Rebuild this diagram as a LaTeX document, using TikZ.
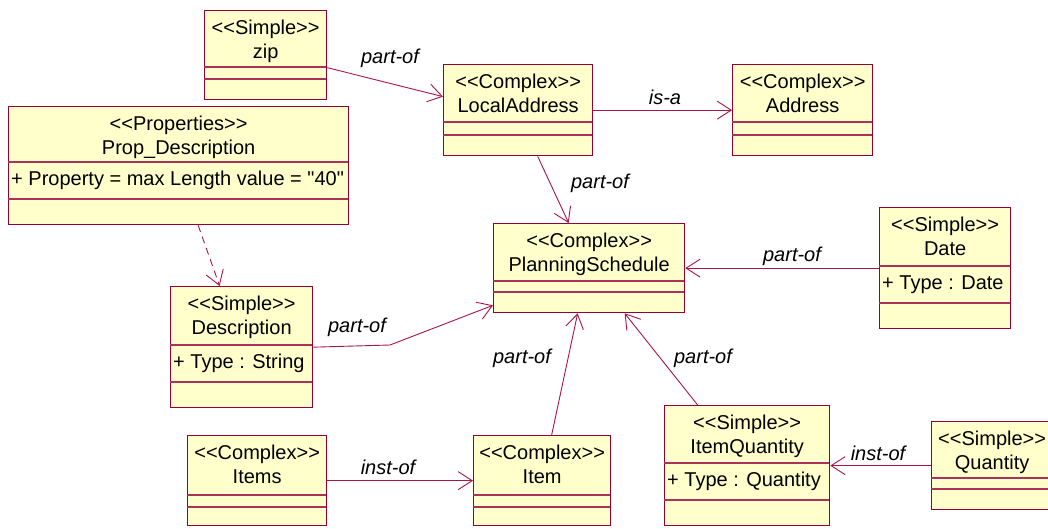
\documentclass[tikz,border=0pt]{standalone}
\usepackage{fontspec}
\newfontfamily\umlfont{Liberation Sans}
\usetikzlibrary{arrows.meta, positioning, calc}

\definecolor{umlborder}{RGB}{150,0,50}
\definecolor{umlline}{RGB}{170,20,70}
\definecolor{umlfill}{RGB}{255,255,204}

% class box: name, left, top, right, divider 1, divider 2, bottom, title, attribute
\newcommand{\umlclass}[9]{%
  \node[cls, anchor=north west, minimum width={(#4-#2)*1pt}, minimum height={(#7-#3)*1pt}] (#1) at (#2,#3) {};
  \draw[cdiv] (#2,#5) -- (#4,#5) (#2,#6) -- (#4,#6);
  \node[ctitle] (#1-t) at (#1.north) {#8};
  \node[cattr] (#1-a) at (#2,{(#5+#6)/2}) {#9};
}

\begin{document}
\begin{tikzpicture}[
    x=1pt, y=-1pt,
    font=\umlfont\fontsize{20}{23.5}\selectfont,
    cls/.style    = {draw=umlborder, fill=umlfill, line width=1.3pt, inner sep=0pt},
    cdiv/.style   = {draw=umlborder!80, line width=1.1pt},
    ctitle/.style = {anchor=north, align=center, inner xsep=2pt, inner ysep=10pt},
    cattr/.style  = {anchor=west, inner sep=3pt},
    rel/.style    = {-{Straight Barb[length=14pt, width=18pt]}, draw=umlline, line width=0.9pt},
    dep/.style    = {rel, dash pattern=on 7pt off 5pt},
    lbl/.style    = {font=\umlfont\itshape\fontsize{20}{23.5}\selectfont, inner sep=1pt}
  ]
  \useasboundingbox (0,0) rectangle (1048,528);

  % --- classes ---
  \umlclass{zip}{204}{10}{326}{67}{79}{99}{<<Simple>>\\zip}{}
  \umlclass{propdesc}{8}{106}{348}{162}{199}{224}{<<Properties>>\\Prop\_Description}{+ Property = max Length value = "40"}
  \umlclass{localaddr}{443}{64}{592}{122}{135}{155}{<<Complex>>\\LocalAddress}{}
  \umlclass{address}{732}{64}{872}{122}{135}{155}{<<Complex>>\\Address}{}
  \umlclass{plansched}{493}{223}{684}{281}{292}{312}{<<Complex>>\\PlanningSchedule}{}
  \umlclass{date}{879}{207}{1010}{266}{303}{328}{<<Simple>>\\Date}{+ Type : Date}
  \umlclass{descr}{170}{286}{312}{345}{382}{407}{<<Simple>>\\Description}{+ Type : String}
  \umlclass{items}{187}{435}{326}{495}{507}{525}{<<Complex>>\\Items}{}
  \umlclass{item}{473}{435}{610}{495}{507}{525}{<<Complex>>\\Item}{}
  \umlclass{itemqty}{664}{405}{829}{463}{500}{525}{<<Simple>>\\ItemQuantity}{+ Type : Quantity}
  \umlclass{qty}{931}{421}{1052}{478}{489}{509}{<<Simple>>\\Quantity}{}

  % --- relations ---
  \draw[rel] ([yshift=-12.5pt]zip.east) -- ([yshift=13.5pt]localaddr.west);
  \draw[rel] (localaddr.east) -- (address.west);
  \draw[rel] ([xshift=19.5pt]localaddr.south) -- ([xshift=-20.5pt]plansched.north);
  \draw[dep] ([xshift=19.5pt]propdesc.south) -- ([xshift=-22pt]descr.north);
  \coordinate (descbend) at (390,345);
  \draw[rel] (descr.east) -- (descbend) -- ([yshift=8pt]plansched.south west);
  \draw[rel] (date.west) -- (plansched.east);
  \draw[rel] ([xshift=9.5pt]item.north) -- ([xshift=-11.5pt]plansched.south);
  \draw[rel] ([xshift=-49.5pt]itemqty.north) -- ([xshift=35.5pt]plansched.south);
  \draw[rel] (items.east) -- (item.west);
  \draw[rel] (qty.west) -- (itemqty.east);

  % --- labels ---
  \node[lbl] (l-zip)   at (390,58)  {part-of};
  \node[lbl] (l-isa)   at (665,97)  {is-a};
  \node[lbl] (l-local) at (600,183) {part-of};
  \node[lbl] (l-descr) at (357,327) {part-of};
  \node[lbl] (l-date)  at (792,256) {part-of};
  \node[lbl] (l-item)  at (522,358) {part-of};
  \node[lbl] (l-iqty)  at (703,358) {part-of};
  \node[lbl] (l-items) at (388,467) {inst-of};
  \node[lbl] (l-qty)   at (878,453) {inst-of};

\end{tikzpicture}
\end{document}
